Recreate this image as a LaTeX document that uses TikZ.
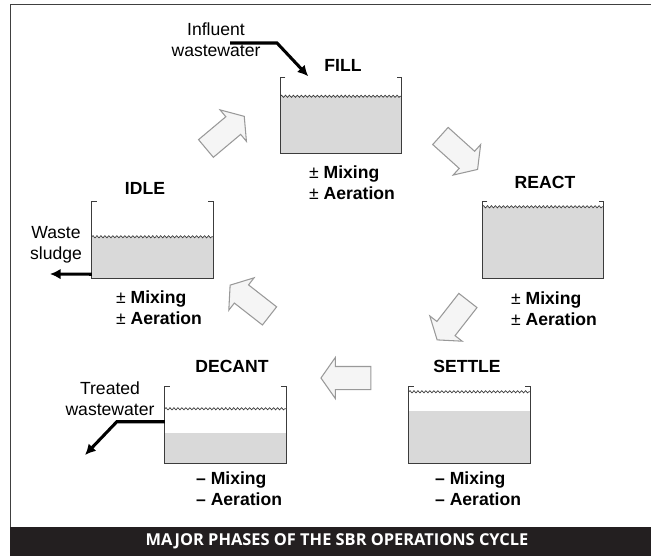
\documentclass[tikz,border=0pt]{standalone}
\usepackage{fontspec}
\setmainfont{Liberation Sans}
\newfontfamily\barfont{Open Sans}
\usepackage{xcolor}
\usetikzlibrary{arrows.meta,positioning,shapes.arrows,calc}
\usetikzlibrary{decorations.pathmorphing}

\definecolor{wallgray}{HTML}{3C3C3C}
\definecolor{watergray}{HTML}{D9D9D9}
\definecolor{bardark}{HTML}{231F20}
\newcommand{\pmsign}{{\mdseries ±}}

\begin{document}
\begin{tikzpicture}[x=0.03cm, y=-0.03cm, font=\fontsize{15}{18}\selectfont,
  tank/.style={minimum width=3.63cm, minimum height=2.28cm, inner sep=0pt},
  wall/.style={draw=wallgray, line width=1.1pt},
  water/.style={fill=watergray},
  wave/.style={draw=wallgray, line width=0.6pt, decorate, decoration={snake, amplitude=0.9pt, segment length=3.4pt}},
  phase/.style={font=\fontsize{15}{18}\selectfont\bfseries},
  cond/.style={anchor=west, align=left, font=\fontsize{15}{18}\selectfont\bfseries},
  flow/.style={-{Latex[length=3.2mm, width=3.2mm]}, line width=2.6pt},
  bigarrow/.style={single arrow, draw=gray!80, fill=gray!8, line width=0.9pt, inner xsep=0pt, inner ysep=0.33cm,
    minimum height=1.5cm, minimum width=1.2cm, single arrow head extend=0.27cm, single arrow tip angle=110}]
  \useasboundingbox (0,0) rectangle (651,556);
  % frame and title bar
  \draw[black!75, line width=1.6pt] (10.5,527) -- (10.5,4.5) -- (651,4.5);
  \fill[bardark] (9.7,527) rectangle (651,556);
  \node[font=\barfont\fontsize{14}{16}\selectfont\bfseries, text=white] (title) at (337,541) {MAJOR PHASES OF THE SBR OPERATIONS CYCLE};
  % tanks: name/x/y/water line/fill top
  \foreach \nm/\x/\y/\w/\s in {fill/341/115.5/19/19, idle/152.5/240/35/35, react/543/240/5/5, decant/225.5/425/22/46, settle/469.5/425/5/24}{
    \node[tank] (\nm) at (\x,\y) {};
    \fill[water] ($(\nm.north west)+(0,\s)$) rectangle (\nm.south east);
    \draw[wave] ($(\nm.north west)+(0,\w)$) -- ($(\nm.north east)+(0,\w)$);
    \draw[wall] ($(\nm.north west)+(5,0)$) -- (\nm.north west) -- (\nm.south west) -- (\nm.south east) -- (\nm.north east) -- ++(-5,0);
  }
  \foreach \nm/\x/\y/\txt in {lfill/343/65/FILL, lidle/145/188/IDLE, lreact/545/182/REACT, ldecant/232/366/DECANT, lsettle/467/366/SETTLE}{\node[phase] (\nm) at (\x,\y) {\txt};}
  \node[cond] (cfill) at (305,182.5) {\pmsign{} Mixing\\\pmsign{} Aeration};
  \node[cond] (cidle) at (112,307.5) {\pmsign{} Mixing\\\pmsign{} Aeration};
  \node[cond] (creact) at (507,308.5) {\pmsign{} Mixing\\\pmsign{} Aeration};
  \node[cond] (cdecant) at (192,489) {\textendash{} Mixing\\\textendash{} Aeration};
  \node[cond] (csettle) at (431,489) {\textendash{} Mixing\\\textendash{} Aeration};
  % flows in and out
  \node[align=center] (influent) at (216,40) {Influent\\wastewater};
  \coordinate (inflbend) at (277,43);
  \draw[flow] ($(influent.center)+(14,3)$) -- (inflbend) -- ($(fill.north west)+(28,-1)$);
  \node[align=center] (waste) at (56,245) {Waste\\sludge};
  \coordinate (sludgeout) at (50,274);
  \draw[flow] ($(idle.south west)+(0,-4)$) -- (sludgeout);
  \node[align=center] (treated) at (110,398.5) {Treated\\wastewater};
  \coordinate (treatedout) at (85,455);
  \draw[flow] ($(decant.north west)+(0,35)$) -- ++(-48,0) -- (treatedout);
  % cycle arrows
  \foreach \nm/\x/\y/\a in {arr1/222/135/40, arr2/456/150/-42, arr3/455/317/-128, arr4/350/378/180, arr5/253/303/142}{\node[bigarrow, rotate=\a] (\nm) at (\x,\y) {};}
\end{tikzpicture}
\end{document}
